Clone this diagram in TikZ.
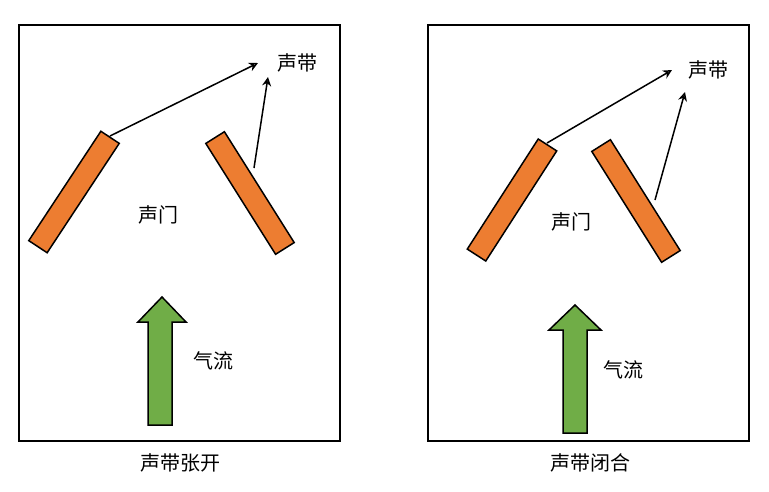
\documentclass[tikz,border=0pt]{standalone}
\usepackage{fontspec}
\setmainfont{Noto Sans CJK SC}
\usetikzlibrary{arrows.meta}
\begin{document}
\begin{tikzpicture}[x=1pt,y=-1pt,
  panel/.style={draw=black,line width=1.5pt},
  fold/.style={draw=black,line width=1.5pt,fill={rgb,255:red,237;green,125;blue,49},minimum width=131pt,minimum height=22pt,inner sep=0pt},
  lbl/.style={font=\fontsize{20}{24}\selectfont,inner sep=0pt},
  ptr/.style={-{Stealth[open,length=9pt,width=9pt]},line width=1.5pt},
  flow/.style={draw=black,line width=1.5pt,fill={rgb,255:red,112;green,173;blue,71}}]
\useasboundingbox (0,0) rectangle (769,491);
% left panel
\draw[panel] (19,25) rectangle (340,441);
\node[fold,rotate=56.6] (la) at (74,192) {};
\node[fold,rotate=-57.8] (lb) at (250,193) {};
\node[lbl] (lv) at (297,63) {声带};
\node[lbl] (lg) at (158,215) {声门};
\node[lbl] (lf) at (213,361) {气流};
\node[lbl] (lc) at (180,463) {声带张开};
\coordinate (la1) at (110,136);
\coordinate (lb1) at (254,168);
\draw[ptr] (la1) -- (258,63);
\draw[ptr] (lb1) -- (268,77);
\draw[flow] (148,425) -- (148,322) -- (138,322) -- (162,297) -- (186,322) -- (172,322) -- (172,425) -- cycle;
% right panel
\draw[panel] (428,25) rectangle (749,441);
\node[fold,rotate=57.2] (ra) at (512,200) {};
\node[fold,rotate=-57.8] (rb) at (636,201) {};
\node[lbl] (rv) at (708,70) {声带};
\node[lbl] (rg) at (571,222) {声门};
\node[lbl] (rf) at (623,370) {气流};
\node[lbl] (rc) at (590,463) {声带闭合};
\coordinate (ra1) at (547,143);
\coordinate (rb1) at (655,200);
\draw[ptr] (ra1) -- (672,70);
\draw[ptr] (rb1) -- (685,92);
\draw[flow] (563,433) -- (563,330) -- (549,330) -- (575,305) -- (601,330) -- (587,330) -- (587,433) -- cycle;
\end{tikzpicture}
\end{document}
